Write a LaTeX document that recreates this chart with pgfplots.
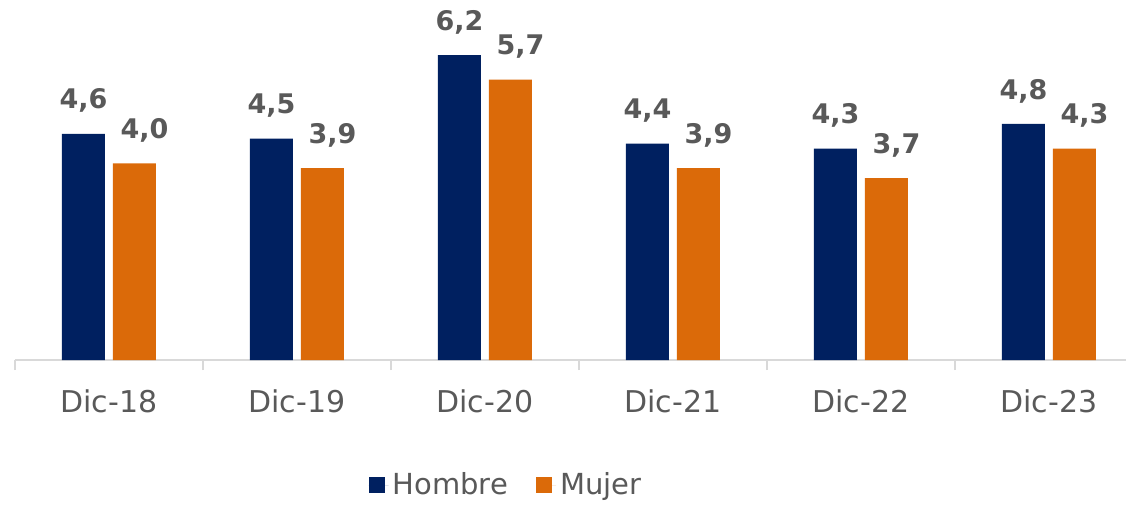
\documentclass[border=0pt]{standalone}
\usepackage{fontspec}
\setmainfont{DejaVu Sans}
\usepackage{pgfplots}
\pgfplotsset{compat=1.18}

\definecolor{navy}{HTML}{002060}
\definecolor{naranja}{HTML}{DB6A09}
\definecolor{gristxt}{HTML}{595959}
\definecolor{grislinea}{HTML}{D9D9D9}

\begin{document}
\begin{tikzpicture}
\useasboundingbox (-7.5pt,-72.5pt) rectangle (555.5pt,180pt);
\begin{axis}[
    at={(0,0)}, anchor=south west,
    scale only axis,
    width=555.5pt, height=180pt,
    ybar, bar width=21.5pt, ybar=4pt,
    xmin=-0.5, xmax=5.41,
    ymin=0, ymax=7.32,
    axis y line=none,
    axis x line*=bottom,
    x axis line style={grislinea, line width=1pt, -},
    xtick=data,
    xticklabels={Dic-18,Dic-19,Dic-20,Dic-21,Dic-22,Dic-23},
    major x tick style={draw=none},
    minor xtick={-0.5,0.5,1.5,2.5,3.5,4.5,5.5},
    minor x tick style={grislinea, line width=1pt},
    minor tick length=5pt,
    tick align=outside,
    xticklabel style={font=\fontsize{15}{18}\selectfont, text=gristxt, yshift=-7pt},
    nodes near coords,
    /pgf/number format/use comma,
    /pgf/number format/fixed,
    /pgf/number format/fixed zerofill,
    /pgf/number format/precision=1,
    /pgf/number format/assume math mode=true,
    nodes near coords style={font=\bfseries\fontsize{13.5}{16}\selectfont, text=gristxt, yshift=7pt},
    legend style={at={(246pt,-62.5pt)}, anchor=center, draw=none, fill=none,
        legend columns=2, font=\fontsize{14.5}{17}\selectfont, text=gristxt,
        /tikz/every even column/.append style={column sep=12pt}},
    legend image code/.code={\fill[#1] (0pt,-4pt) rectangle (8pt,4pt); \path (0pt,0pt) -- (10pt,0pt);},
    clip=false,
]
\addplot[fill=navy, draw=none] coordinates {(0,4.6) (1,4.5) (2,6.2) (3,4.4) (4,4.3) (5,4.8)};
\addplot[fill=naranja, draw=none, nodes near coords style={xshift=5pt}] coordinates {(0,4.0) (1,3.9) (2,5.7) (3,3.9) (4,3.7) (5,4.3)};
\legend{Hombre, Mujer}
\end{axis}
\end{tikzpicture}
\end{document}
